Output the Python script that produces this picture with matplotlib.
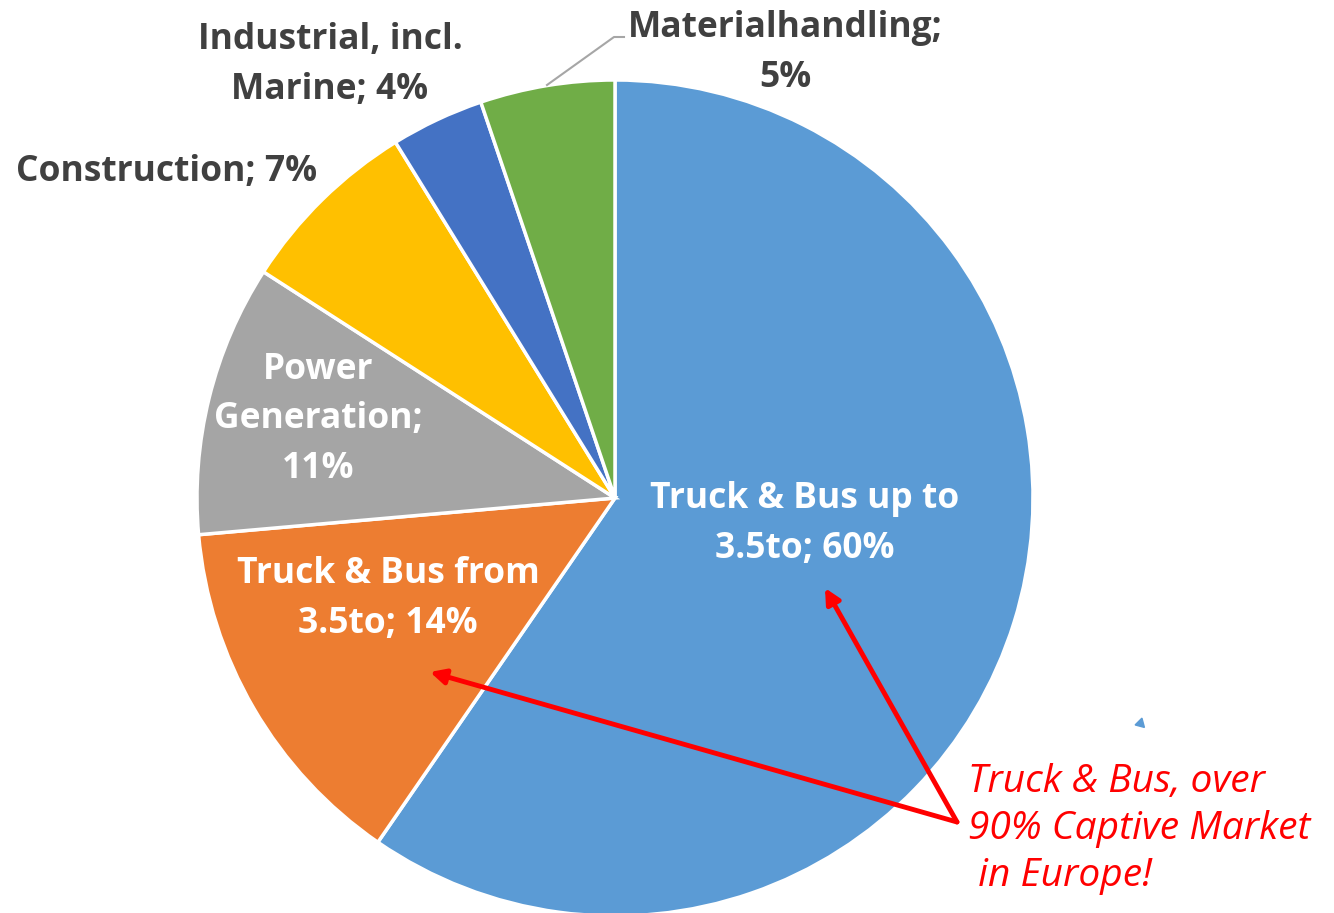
import matplotlib.pyplot as plt
import numpy as np

# share of market by segment
segments = ['Truck & Bus up to 3.5to', 'Truck & Bus from 3.5to', 'Power Generation',
            'Construction', 'Industrial, incl. Marine', 'Materialhandling']
shares = [59.6, 14.0, 10.5, 7.1, 3.6, 5.2]
label_texts = ['Truck & Bus up to\n3.5to; 60%', 'Truck & Bus from\n3.5to; 14%',
               'Power\nGeneration;\n11%', 'Construction; 7%',
               'Industrial, incl.\nMarine; 4%', 'Materialhandling;\n5%']
colors = ['#5B9BD5', '#ED7D31', '#A5A5A5', '#FFC000', '#4472C4', '#70AD47']
label_colors = ['white', 'white', 'white', '#404040', '#404040', '#404040']
callout = 'Truck & Bus, over\n90% Captive Market\n in Europe!'

W, H = 1334, 913
fig = plt.figure(figsize=(W / 100, H / 100), dpi=100)
ax = fig.add_axes([0, 0, 1, 1])

def py(y):
    # pixel row -> data y
    return H - y

cx, cy, r = 615, py(498), 418
ax.pie(shares, colors=colors, startangle=90, counterclock=False,
       center=(cx, cy), radius=r, frame=True,
       wedgeprops=dict(edgecolor='white', linewidth=2.5))
ax.set_xlim(0, W)
ax.set_ylim(0, H)
ax.axis('off')

font = 'Open Sans'
label_pos = [(805, 524), (388, 599), (318, 419), (167, 172), (330, 65), (785, 53)]
for txt, (x, y), c in zip(label_texts, label_pos, label_colors):
    ax.text(x, py(y), txt, ha='center', va='center', fontsize=25.5,
            fontweight='bold', color=c, family=font, linespacing=1.5)

# leader line for Materialhandling
ax.plot([547, 614, 624], [py(85), py(37), py(37)], color='#A6A6A6', lw=1.5)

# red callout with arrows
ax.text(968, py(829), callout, ha='left', va='center', fontsize=28,
        fontstyle='italic', color='#FF0000', family=font, linespacing=1.31)
for tx, ty in [(430, 672), (825, 588)]:
    ax.annotate('', xy=(tx, py(ty)), xytext=(957, py(822)),
                arrowprops=dict(arrowstyle='-|>,head_length=0.9,head_width=0.45',
                                color='#FF0000', lw=3.5, shrinkA=0, shrinkB=0))

# small stray marker
ax.plot([1140], [py(723)], marker=(3, 0, -15), color='#5B9BD5', markersize=8, ls='none')

fig.savefig('out.png', dpi=100)
